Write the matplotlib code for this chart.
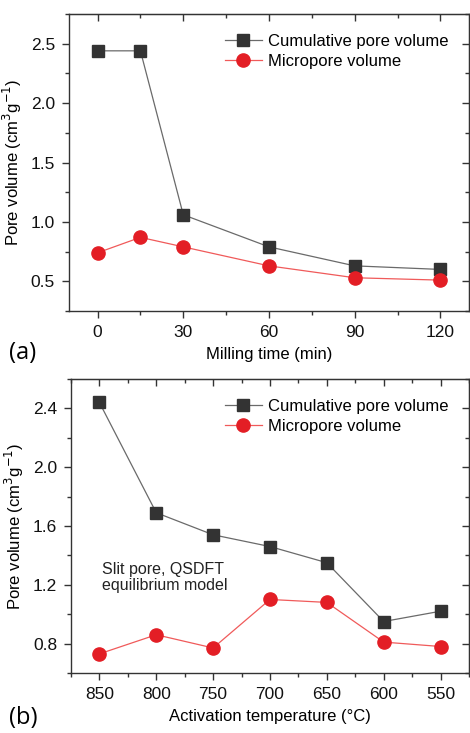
import numpy as np
import matplotlib.pyplot as plt
from matplotlib.ticker import MultipleLocator

plt.rcParams['font.family'] = ['Liberation Sans', 'DejaVu Sans']

# (a) milling time series
mill_time = [0, 15, 30, 60, 90, 120]
mill_cum = [2.44, 2.44, 1.06, 0.79, 0.63, 0.60]
mill_micro = [0.74, 0.87, 0.79, 0.63, 0.53, 0.51]

# (b) activation temperature series
act_temp = [850, 800, 750, 700, 650, 600, 550]
act_cum = [2.44, 1.69, 1.54, 1.46, 1.35, 0.95, 1.02]
act_micro = [0.73, 0.86, 0.77, 1.10, 1.08, 0.81, 0.78]

sq_col = '#333333'
sq_line = '#6a6a6a'
ci_col = '#e31e25'
ci_line = '#f05a5a'
spine_col = '#333333'

fig = plt.figure(figsize=(4.7, 7.33), dpi=100)


def style_axes(ax, xmaj, xmin, ymaj, ymin):
    for s in ax.spines.values():
        s.set_color(spine_col)
        s.set_linewidth(1.0)
    ax.xaxis.set_major_locator(MultipleLocator(xmaj))
    ax.xaxis.set_minor_locator(MultipleLocator(xmin))
    ax.yaxis.set_major_locator(MultipleLocator(ymaj))
    ax.yaxis.set_minor_locator(MultipleLocator(ymin))
    ax.tick_params(which='both', direction='out', color=spine_col, width=1.0,
                   labelsize=12.5, labelcolor='#111111', pad=5)
    ax.tick_params(which='major', length=5)
    ax.tick_params(which='minor', length=3)
    # mirrored ticks pointing inwards on top and right
    top = ax.secondary_xaxis('top')
    right = ax.secondary_yaxis('right')
    top.xaxis.set_major_locator(MultipleLocator(xmaj))
    top.xaxis.set_minor_locator(MultipleLocator(xmin))
    right.yaxis.set_major_locator(MultipleLocator(ymaj))
    right.yaxis.set_minor_locator(MultipleLocator(ymin))
    for sec in (top, right):
        sec.tick_params(which='both', direction='in', color=spine_col, width=1.0,
                        labeltop=False, labelright=False)
        sec.tick_params(which='major', length=5)
        sec.tick_params(which='minor', length=3)
        for s in sec.spines.values():
            s.set_color(spine_col)


def plot_pair(ax, x, cum, micro):
    ax.plot(x, cum, color=sq_line, lw=0.9, marker='s', ms=8.5,
            mfc=sq_col, mec=sq_col, label='Cumulative pore volume', zorder=3)
    ax.plot(x, micro, color=ci_line, lw=0.9, marker='o', ms=9.5,
            mfc=ci_col, mec=ci_col, label='Micropore volume', zorder=3)
    leg = ax.legend(loc='upper right', frameon=False, fontsize=12,
                    handlelength=2.2, handletextpad=0.4, labelspacing=0.3,
                    borderaxespad=0.8)
    return leg


# panel (a)
ax1 = fig.add_axes([0.1468, 0.5757, 0.851, 0.4052])
plot_pair(ax1, mill_time, mill_cum, mill_micro)
ax1.set_xlim(-10, 130)
ax1.set_ylim(0.25, 2.75)
style_axes(ax1, 30, 15, 0.5, 0.25)
ax1.set_xticks([0, 30, 60, 90, 120])
ax1.set_xlabel('Milling time (min)', fontsize=12, labelpad=5)
ax1.set_ylabel(r'Pore volume (cm$^3$g$^{-1}$)', fontsize=12, labelpad=5)
fig.text(0.02, 0.518, '(a)', fontsize=17, family=['Open Sans', 'DejaVu Sans'],
         va='center', ha='left')

# panel (b)
ax2 = fig.add_axes([0.151, 0.0819, 0.8468, 0.4011])
plot_pair(ax2, act_temp, act_cum, act_micro)
ax2.set_xlim(875, 525)
ax2.set_ylim(0.6, 2.6)
style_axes(ax2, 50, 25, 0.4, 0.2)
ax2.set_xlabel('Activation temperature (°C)', fontsize=12, labelpad=5)
ax2.set_ylabel(r'Pore volume (cm$^3$g$^{-1}$)', fontsize=12, labelpad=5)
ax2.text(0.078, 0.272, 'Slit pore, QSDFT\nequilibrium model', transform=ax2.transAxes,
         fontsize=11.5, color='#222222', linespacing=1.1, va='bottom', ha='left')
fig.text(0.02, 0.021, '(b)', fontsize=17, family=['Open Sans', 'DejaVu Sans'],
         va='center', ha='left')

fig.savefig('out.png', dpi=100)
